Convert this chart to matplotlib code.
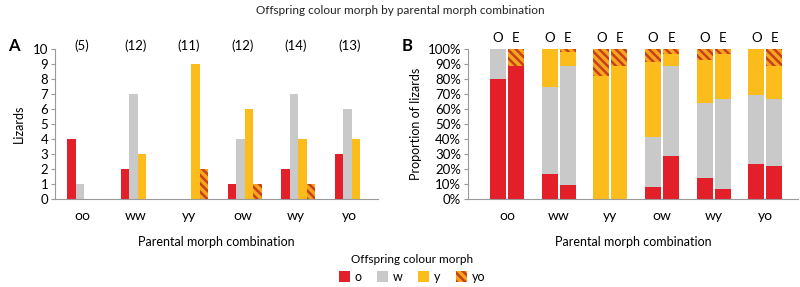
import numpy as np
import matplotlib.pyplot as plt

plt.rcParams['font.family'] = ['Lato', 'DejaVu Sans']
plt.rcParams['hatch.linewidth'] = 1.8
plt.rcParams['hatch.color'] = '#c8401a'

# Données
parents = ['oo', 'ww', 'yy', 'ow', 'wy', 'yo']
n_total = ['(5)', '(12)', '(11)', '(12)', '(14)', '(13)']
morphs = ['o', 'w', 'y', 'yo']

# panneau A : nombre de lézards par morphe descendant
counts_o = [4, 2, 0, 1, 2, 3]
counts_w = [1, 7, 0, 4, 7, 6]
counts_y = [0, 3, 9, 6, 4, 4]
counts_yo = [0, 0, 2, 1, 1, 0]

# panneau B : proportions observées (O) et attendues (E), en %
obs_o = [80, 16.7, 0, 8.3, 14.3, 23.1]
obs_w = [20, 58.3, 0, 33.3, 50.0, 46.1]
obs_y = [0, 25.0, 81.8, 50.0, 28.6, 30.8]
obs_yo = [0, 0, 18.2, 8.4, 7.1, 0]

exp_o = [89, 9.5, 0, 29, 7, 22]
exp_w = [0, 79.5, 0, 60, 60, 45]
exp_y = [0, 9, 89, 8, 30, 22]
exp_yo = [11, 2, 11, 3, 3, 11]

colors = {'o': '#e3202a', 'w': '#c9c9c9', 'y': '#fbbc1c', 'yo': '#f7a51e'}
hatches = {'o': None, 'w': None, 'y': None, 'yo': '\\\\\\\\'}

fig = plt.figure(figsize=(8, 2.87), dpi=100)
axA = fig.add_axes([0.069, 0.3066, 0.4035, 0.5224])
axB = fig.add_axes([0.585, 0.3066, 0.4125, 0.5224])

fig.text(0.5, 0.965, 'Offspring colour morph by parental morph combination',
         ha='center', va='center', fontsize=8.5, color='#222222')

# ----- Panneau A -----
x = np.arange(len(parents))
w = 0.16
series_a = [counts_o, counts_w, counts_y, counts_yo]
for k, (m, vals) in enumerate(zip(morphs, series_a)):
    axA.bar(x + (k - 1.5) * w + 0.04, vals, width=w, color=colors[m],
            hatch=hatches[m], edgecolor='none' if m != 'yo' else '#c8401a',
            linewidth=0)
axA.set_xlim(-0.5, 5.53)
axA.set_ylim(0, 10)
axA.set_yticks(range(0, 11))
axA.set_xticks(x)
axA.set_xticklabels(parents, fontsize=10)
axA.set_ylabel('Lizards', fontsize=9, labelpad=6)
axA.set_xlabel('Parental morph combination', fontsize=9, labelpad=10)
for i, t in enumerate(n_total):
    axA.text(x[i], 10.2, t, ha='center', va='center', fontsize=9.5)
axA.text(-0.145, 1.02, 'A', transform=axA.transAxes, fontsize=12,
         fontweight='bold', ha='left', va='center')

# ----- Panneau B -----
bw = 0.31
off = 0.175
series_obs = [obs_o, obs_w, obs_y, obs_yo]
series_exp = [exp_o, exp_w, exp_y, exp_yo]
for pos, series in [(-off, series_obs), (off, series_exp)]:
    bottom = np.zeros(len(parents))
    for m, vals in zip(morphs, series):
        vals = np.array(vals, dtype=float)
        axB.bar(x + pos, vals, width=bw, bottom=bottom, color=colors[m],
                hatch=hatches[m], edgecolor='none' if m != 'yo' else '#c8401a',
                linewidth=0)
        bottom += vals
axB.set_xlim(-0.754, 5.63)
axB.set_ylim(0, 100)
axB.set_yticks(range(0, 101, 10))
axB.set_yticklabels([f'{v}%' for v in range(0, 101, 10)])
axB.set_xticks(x)
axB.set_xticklabels(parents, fontsize=10)
axB.set_ylabel('Proportion of lizards', fontsize=9, labelpad=4)
axB.set_xlabel('Parental morph combination', fontsize=9, labelpad=10)
for i in range(len(parents)):
    axB.text(x[i] - off, 107.5, 'O', ha='center', va='center', fontsize=9.5)
    axB.text(x[i] + off, 107.5, 'E', ha='center', va='center', fontsize=9.5)
axB.text(-0.2, 1.02, 'B', transform=axB.transAxes, fontsize=12,
         fontweight='bold', ha='left', va='center')

for ax in (axA, axB):
    for s in ('top', 'right'):
        ax.spines[s].set_visible(False)
    ax.spines['left'].set_color('#9a9a9a')
    ax.spines['bottom'].set_color('#9a9a9a')
    ax.tick_params(axis='y', length=3, color='#9a9a9a', labelsize=9.5, pad=2)
    ax.tick_params(axis='x', length=0, pad=8)

# ----- Légende -----
handles = [plt.Rectangle((0, 0), 1, 1, facecolor=colors[m], hatch=hatches[m],
                         edgecolor='none' if m != 'yo' else '#c8401a', linewidth=0)
           for m in morphs]
leg = fig.legend(handles, morphs, loc='center', bbox_to_anchor=(0.515, 0.065),
                 ncol=4, frameon=False, fontsize=9, handlelength=0.9,
                 handleheight=0.9, handletextpad=0.4, columnspacing=1.2,
                 title='Offspring colour morph', title_fontsize=8.5)

fig.savefig('out.png', dpi=100)
